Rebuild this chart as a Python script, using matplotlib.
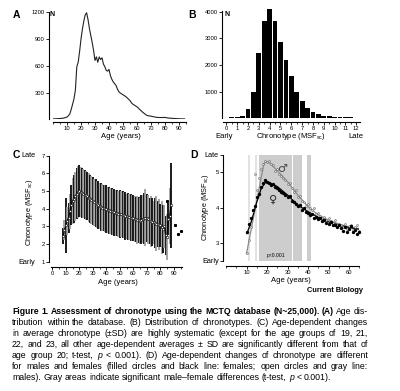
import matplotlib
matplotlib.use('Agg')
import matplotlib.pyplot as plt
import numpy as np

plt.rcParams['font.family'] = ['Liberation Sans', 'DejaVu Sans']
plt.rcParams['mathtext.fontset'] = 'custom'
plt.rcParams['mathtext.rm'] = 'Liberation Sans'
plt.rcParams['mathtext.it'] = 'Liberation Sans:italic'

# ---------------- data ----------------
# Panel A: age distribution
ages_a = [0, 2, 4, 6, 8, 10, 11, 12, 13, 14, 15, 16, 17, 18, 19, 20, 21, 22, 23, 24,
          25, 26, 27, 28, 29, 30, 31, 32, 33, 34, 35, 36, 37, 38, 39, 40, 41, 42, 43, 44,
          45, 46, 47, 48, 49, 50, 51, 52, 53, 54, 55, 56, 57, 58, 59, 60, 61, 62, 63, 64,
          65, 66, 67, 68, 70, 72, 74, 76, 78, 80, 82, 84, 86, 88, 90, 92, 94]
counts_a = [5, 6, 8, 10, 15, 25, 40, 60, 110, 170, 230, 330, 590, 640, 760, 900, 1010, 1100, 1170, 1195,
            1120, 1020, 940, 860, 770, 660, 700, 640, 700, 670, 690, 620, 590, 550, 540, 560, 490, 450, 420, 400,
            380, 340, 310, 295, 285, 275, 265, 255, 240, 225, 210, 185, 170, 160, 150, 140, 125, 110, 95, 80,
            68, 55, 45, 40, 35, 28, 22, 20, 20, 21, 15, 12, 10, 8, 6, 5, 5]

# Panel B: chronotype distribution
msf_b = [0, 0.5, 1, 1.5, 2, 2.5, 3, 3.5, 4, 4.5, 5, 5.5, 6, 6.5, 7, 7.5, 8, 8.5, 9, 9.5,
         10, 10.5, 11, 11.5, 12]
n_b = [30, 40, 60, 100, 350, 1000, 2450, 3650, 4100, 3650, 2850, 2200, 1600, 1000, 650, 400,
       230, 150, 100, 100, 60, 60, 40, 40, 30]

# Panel C: mean chronotype +- SD by age
ages_c = list(range(8, 89))
mean_c = [2.45, 2.8, 3.05, 3.3, 3.5, 3.85, 4.2, 4.45, 4.55, 4.7, 4.85, 4.95, 5.0, 4.95, 4.9, 4.85,
          4.8, 4.75, 4.7, 4.62, 4.55, 4.48, 4.42, 4.36, 4.3, 4.25, 4.2, 4.15, 4.1, 4.06, 4.02, 4.0,
          3.98, 3.95, 3.92, 3.88, 3.85, 3.82, 3.8, 3.77, 3.75, 3.72, 3.7, 3.68, 3.66, 3.63, 3.6, 3.58,
          3.55, 3.52, 3.5, 3.47, 3.45, 3.42, 3.4, 3.37, 3.35, 3.33, 3.38, 3.42, 3.45, 3.5, 3.48, 3.4,
          3.3, 3.28, 3.25, 3.22, 3.2, 3.15, 3.12, 3.1, 3.05, 2.95, 2.85, 3.0, 2.5, 2.4, 3.4, 3.6, 4.2]
sd_c = [0.47, 0.55, 1.55, 0.8, 0.85, 1.0, 1.15, 1.3, 1.35, 1.4, 1.45, 1.48, 1.45, 1.42, 1.4, 1.38,
        1.4, 1.38, 1.36, 1.38, 1.35, 1.36, 1.35, 1.34, 1.36, 1.33, 1.35, 1.32, 1.34, 1.33, 1.3, 1.32,
        1.34, 1.3, 1.33, 1.31, 1.32, 1.3, 1.34, 1.3, 1.32, 1.3, 1.36, 1.3, 1.33, 1.3, 1.35, 1.28,
        1.32, 1.3, 1.34, 1.28, 1.3, 1.32, 1.28, 1.35, 1.3, 1.3, 1.4, 1.35, 1.45, 1.6, 1.38, 1.4,
        1.3, 1.45, 1.35, 1.2, 1.4, 1.55, 1.3, 1.45, 1.2, 1.5, 1.35, 1.2, 1.1, 1.3, 0.9, 1.6, 2.4]
extra_age_c = [85, 91, 93, 95]
extra_val_c = [4.46, 3.08, 2.55, 2.74]

# Panel D: males vs females
ages_d = list(range(10, 66))
male_d = [2.72, 3.1, 3.45, 3.9, 4.95, 4.5, 4.85, 5.1, 5.25, 5.32, 5.3, 5.33, 5.25, 5.2, 5.05, 5.1,
          4.95, 4.9, 4.85, 4.8, 4.68, 4.7, 4.55, 4.45, 4.5, 4.3, 4.32, 4.2, 4.15, 4.05, 4.1, 3.98,
          3.95, 4.0, 3.82, 3.85, 3.78, 3.72, 3.75, 3.66, 3.7, 3.62, 3.58, 3.65, 3.52, 3.55, 3.5, 3.45,
          3.55, 3.4, 3.48, 3.52, 3.38, 3.45, 3.5, 3.35]
female_d = [3.3, 3.55, 3.7, 3.95, 4.05, 4.3, 4.4, 4.6, 4.7, 4.78, 4.72, 4.7, 4.65, 4.68, 4.6, 4.55,
            4.5, 4.45, 4.42, 4.35, 4.3, 4.32, 4.2, 4.15, 4.1, 4.05, 4.08, 3.95, 3.98, 3.88, 3.85, 3.8,
            3.82, 3.72, 3.75, 3.68, 3.7, 3.62, 3.65, 3.58, 3.55, 3.6, 3.5, 3.52, 3.45, 3.5, 3.42, 3.35,
            3.45, 3.3, 3.4, 3.48, 3.32, 3.38, 3.25, 3.3]
male_fit_age = [10, 18.5, 19.5, 21, 23, 25, 28, 30, 35, 40, 45, 50, 55, 60, 65]
male_fit = [2.7, 5.25, 5.3, 5.28, 5.17, 5.05, 4.86, 4.74, 4.36, 4.03, 3.8, 3.65, 3.54, 3.45, 3.41]
female_fit_age = [10.2, 12.3, 14.8, 17.2, 19.5, 21, 25, 30, 35, 40, 45, 50, 55, 60, 65]
female_fit = [3.27, 3.6, 4.12, 4.55, 4.74, 4.72, 4.6, 4.36, 4.08, 3.89, 3.73, 3.6, 3.51, 3.44, 3.39]
sig_light = [(10.6, 11.7), (14.1, 15.3)]
sig_bands = [(16.1, 32.0), (32.8, 37.2), (39.7, 41.5)]

caption = [
    "Figure 1. Assessment of chronotype using the MCTQ database (N~25,000). (A) Age dis-",
    "tribution within the database. (B) Distribution of chronotypes. (C) Age-dependent changes",
    "in average chronotype (\u00b1SD) are highly systematic (except for the age groups of 19, 21,",
    "22, and 23, all other age-dependent averages \u00b1 SD are significantly different from that of",
    "age group 20; t-test, p < 0.001). (D) Age-dependent changes of chronotype are different",
    "for males and females (filled circles and black line: females; open circles and gray line:",
    "males). Gray areas indicate significant male\u2013female differences (t-test, p < 0.001).",
]
n_bold_words = 11

# ---------------- figure ----------------
W, H = 400, 391
fig = plt.figure(figsize=(W / 100, H / 100), dpi=100)


def ax_px(x0, x1, ytop, ybot):
    return fig.add_axes([x0 / W, 1 - ybot / H, (x1 - x0) / W, (ybot - ytop) / H])


def ftext(x, y, s, **kw):
    kw.setdefault('va', 'center')
    return fig.text(x / W, 1 - y / H, s, **kw)


def style(ax, left_out, bottom_out):
    for s in ['top', 'right']:
        ax.spines[s].set_visible(False)
    ax.spines['left'].set_position(('outward', left_out * 0.72))
    ax.spines['bottom'].set_position(('outward', bottom_out * 0.72))
    for s in ['left', 'bottom']:
        ax.spines[s].set_linewidth(0.8)
    ax.tick_params(which='major', labelsize=4.2, length=2, width=0.6, pad=1)
    ax.tick_params(which='minor', length=1.2, width=0.5)
    ax.patch.set_alpha(0)


MSF = 'Chronotype (MSF$_{\\rm sc}$)'

# ---- A ----
axA = ax_px(53, 186, 12.3, 119.3)
axA.plot(ages_a, counts_a, color='#222222', lw=0.8)
axA.set_xlim(0, 95)
axA.set_ylim(0, 1200)
axA.set_yticks([300, 600, 900, 1200])
axA.set_xticks(range(10, 100, 10))
axA.set_xticks(range(0, 96, 5), minor=True)
style(axA, 4, 3)
ftext(13, 15, 'A', fontsize=7.5, fontweight='bold')
ftext(50, 15, 'N', fontsize=5, fontweight='bold')
ftext(121, 137, 'Age (years)', fontsize=5.5, ha='center')

# ---- B ----
axB = ax_px(223.1, 359.5, 9.2, 118.3)
axB.bar(msf_b, n_b, width=0.44, color='black', edgecolor='none')
axB.set_xlim(-0.3, 12.3)
axB.set_ylim(0, 4100)
axB.set_yticks([1000, 2000, 3000, 4000])
axB.set_xticks(range(0, 13))
axB.set_xticks(np.arange(0, 12.1, 0.5), minor=True)
style(axB, 1.5, 3.5)
axB.spines['left'].set_bounds(0, 4050)
ftext(188, 15, 'B', fontsize=7.5, fontweight='bold')
ftext(224, 15, 'N', fontsize=5, fontweight='bold')
ftext(215, 136, 'Early', fontsize=5.5, ha='left')
ftext(291, 136, MSF, fontsize=5.5, ha='center')
ftext(363, 136, 'Late', fontsize=5.5, ha='right')

# ---- C ----
axC = ax_px(51, 181.9, 155.7, 261.7)
for i, (a, m, s) in enumerate(zip(ages_c, mean_c, sd_c)):
    axC.vlines(a, m - s, m + s, color='black' if i % 2 == 0 else '#9a9a9a', lw=1.25)
axC.plot(ages_c, mean_c, '-s', color='black', lw=0.9, ms=1.5, mfc='white', mew=0.4)
axC.plot(extra_age_c, extra_val_c, 's', color='black', ms=1.2, clip_on=False)
axC.set_xlim(-1, 96)
axC.set_ylim(1, 7)
axC.set_yticks(range(1, 8))
axC.set_xticks(range(0, 100, 10))
axC.set_xticks(range(0, 96, 5), minor=True)
style(axC, 2, 5)
ftext(13, 155, 'C', fontsize=7.5, fontweight='bold')
ftext(28.5, 155.5, 'Late', fontsize=5.3, ha='center')
ftext(27, 262, 'Early', fontsize=5.3, ha='center')
ftext(29.5, 211.7, MSF, fontsize=5.3, ha='center', rotation=90)
ftext(118, 282, 'Age (years)', fontsize=5.5, ha='center')

# ---- D ----
axD = ax_px(226, 359.3, 154.8, 260.7)
for a0, a1 in sig_light:
    axD.axvspan(a0, a1, color='#e2e2e2', lw=0)
for a0, a1 in sig_bands:
    axD.axvspan(a0, a1, color='#cdcdcd', lw=0)
axD.plot(male_fit_age, male_fit, color='#8c8c8c', lw=0.9)
axD.plot(female_fit_age, female_fit, color='black', lw=0.9)
axD.plot(ages_d, male_d, 'o', ms=1.4, mfc='#dddddd', mec='#666666', mew=0.4, clip_on=False)
axD.plot(ages_d, female_d, 'o', ms=1.4, color='black', clip_on=False)
axD.set_xlim(0, 65)
axD.set_ylim(2.5, 5.5)
axD.set_yticks([2.5, 3, 4, 5, 5.5])
axD.set_yticklabels(['Early', '3', '4', '5', 'Late'])
axD.set_xticks(range(10, 61, 10))
axD.set_xticks(range(0, 66, 5), minor=True)
style(axD, 3, 5)
for lab in axD.get_yticklabels():
    if lab.get_text() in ('Early', 'Late'):
        lab.set_fontsize(5.3)
ftext(190, 155, 'D', fontsize=7.5, fontweight='bold')
ftext(205.5, 206.7, MSF, fontsize=5.3, ha='center', rotation=90)
ftext(291, 280, 'Age (years)', fontsize=5.5, ha='center')
ftext(281.7, 168.5, '\u2642', fontsize=8, ha='center', color='#444444',
      family=['DejaVu Sans'])
ftext(273.3, 199.5, '\u2640', fontsize=8, ha='center', color='#222222',
      family=['DejaVu Sans'])
ftext(275.7, 255.7, 'p<0.001', fontsize=3.6, ha='center')
ftext(363, 290, 'Current Biology', fontsize=5.3, ha='right', fontweight='bold')

# ---- caption (justified) ----
renderer = fig.canvas.get_renderer()
cap_left, cap_right = 12, 368
cap_width = cap_right - cap_left
words = []
for li, line in enumerate(caption):
    row = []
    for wi, w in enumerate(line.split(' ')):
        weight = 'bold' if (li == 0 and wi < n_bold_words) else 'normal'
        fstyle = 'italic' if w == 'p' else 'normal'
        row.append((w, weight, fstyle))
    words.append(row)


def measure(s, fs, weight, fstyle):
    t = fig.text(0, 0, s, fontsize=fs, fontweight=weight, fontstyle=fstyle)
    w = t.get_window_extent(renderer).width
    t.remove()
    return w


base = 6.0
space_base = measure('a a', base, 'normal', 'normal') - measure('aa', base, 'normal', 'normal')
nat = []
for row in words:
    ws = sum(measure(w, base, wt, st) for w, wt, st in row)
    nat.append(ws + space_base * (len(row) - 1))
fs = base * cap_width / max(nat[1:-1]) * 0.985
space_w = space_base * fs / base

for li, row in enumerate(words):
    ypx = 311.6 + li * 10.95
    scale = 1.0
    widths = [measure(w, fs, wt, st) for w, wt, st in row]
    min_total = sum(widths) + 0.85 * space_w * (len(row) - 1)
    if min_total > cap_width:
        scale = (cap_width - 0.85 * space_w * (len(row) - 1)) / sum(widths)
        widths = [w * scale for w in widths]
    if li < len(words) - 1:
        gap = (cap_width - sum(widths)) / (len(row) - 1)
    else:
        gap = space_w
    x = cap_left
    for (w, wt, st), wd in zip(row, widths):
        ftext(x, ypx, w, fontsize=fs * scale, fontweight=wt, fontstyle=st, ha='left')
        x += wd + gap

fig.savefig('out.png', dpi=100)
